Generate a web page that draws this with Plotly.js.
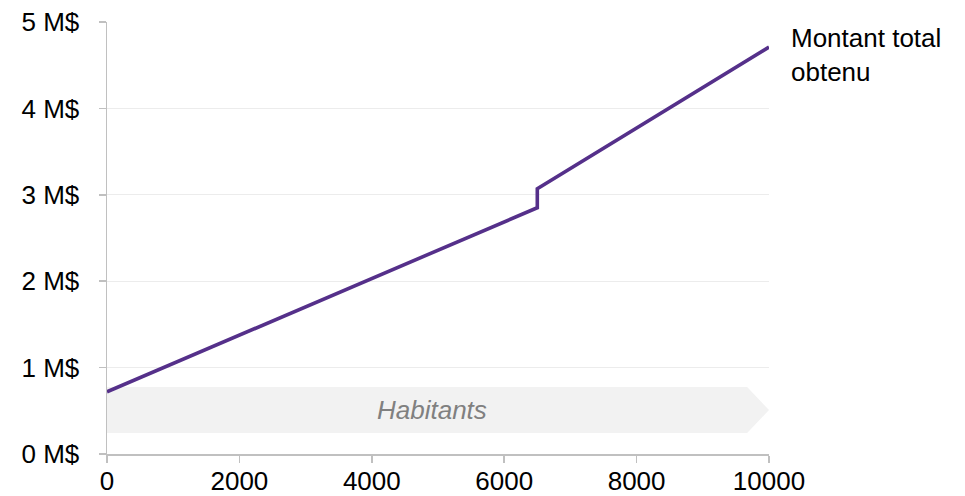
<!DOCTYPE html>
<html>
<head>
<meta charset="utf-8">
<script src="https://cdn.plot.ly/plotly-3.0.1.min.js"></script>
<style>html,body{margin:0;padding:0;background:#fff;}#chart{width:965px;height:496px;}</style>
</head>
<body>
<div id="chart"></div>
<script>
// Data
const population = [0, 6500, 6500, 10000];
const montantM = [0.72, 2.85, 3.07, 4.71];
const seriesName = "Montant total<br>obtenu";
const xTicks = [0, 2000, 4000, 6000, 8000, 10000];
const yTicks = [0, 1, 2, 3, 4, 5];
const bandLabel = "Habitants";
const bandY = [0.243, 0.775];
const bandX = [0, 9670, 10000];

const fontFam = "'Liberation Sans', Arial, sans-serif";
const bandMid = (bandY[0] + bandY[1]) / 2;

const trace = {
  x: population, y: montantM, type: 'scatter', mode: 'lines',
  line: {color: '#55308a', width: 3.6},
  hoverinfo: 'skip', showlegend: false, cliponaxis: false
};

const layout = {
  width: 965, height: 496,
  margin: {l: 107, r: 196, t: 22, b: 42},
  paper_bgcolor: '#fff', plot_bgcolor: '#fff',
  font: {family: fontFam, size: 26, color: '#000'},
  xaxis: {
    range: [0, 10000], tickvals: xTicks, ticktext: xTicks.map(String),
    showgrid: false, zeroline: false, showline: true, linecolor: '#c0c0c0', linewidth: 1.5,
    ticks: 'outside', ticklen: 7, tickcolor: '#c0c0c0', tickwidth: 1.5,
    ticklabelstandoff: -4,
    tickfont: {family: fontFam, size: 26, color: '#000'}, fixedrange: true
  },
  yaxis: {
    range: [0, 5], tickvals: yTicks, ticktext: yTicks.map(v => v + ' M$'),
    showgrid: true, gridcolor: '#ececec', gridwidth: 1, zeroline: false,
    showline: true, linecolor: '#c0c0c0', linewidth: 1.5,
    ticks: 'outside', ticklen: 7, tickcolor: '#c0c0c0', tickwidth: 1.5,
    ticklabelstandoff: 14,
    tickfont: {family: fontFam, size: 26, color: '#000'}, fixedrange: true
  },
  shapes: [{
    type: 'path', xref: 'x', yref: 'y', layer: 'below',
    path: `M ${bandX[0]},${bandY[0]} L ${bandX[1]},${bandY[0]} L ${bandX[2]},${bandMid} L ${bandX[1]},${bandY[1]} L ${bandX[0]},${bandY[1]} Z`,
    fillcolor: '#f2f2f2', line: {width: 0}
  }],
  annotations: [
    {x: (bandX[0] + bandX[2]) / 2, y: bandMid, xref: 'x', yref: 'y', text: '<i>' + bandLabel + '</i>',
     showarrow: false, xshift: -6, font: {family: fontFam, size: 26, color: '#808080'}},
    {x: population[population.length - 1], y: montantM[montantM.length - 1], xref: 'x', yref: 'y',
     text: seriesName, showarrow: false, xanchor: 'left', yanchor: 'middle', align: 'left',
     xshift: 20, yshift: -8, font: {family: fontFam, size: 26, color: '#000'}}
  ]
};

Plotly.newPlot('chart', [trace], layout, {displayModeBar: false, staticPlot: true});
</script>
</body>
</html>
